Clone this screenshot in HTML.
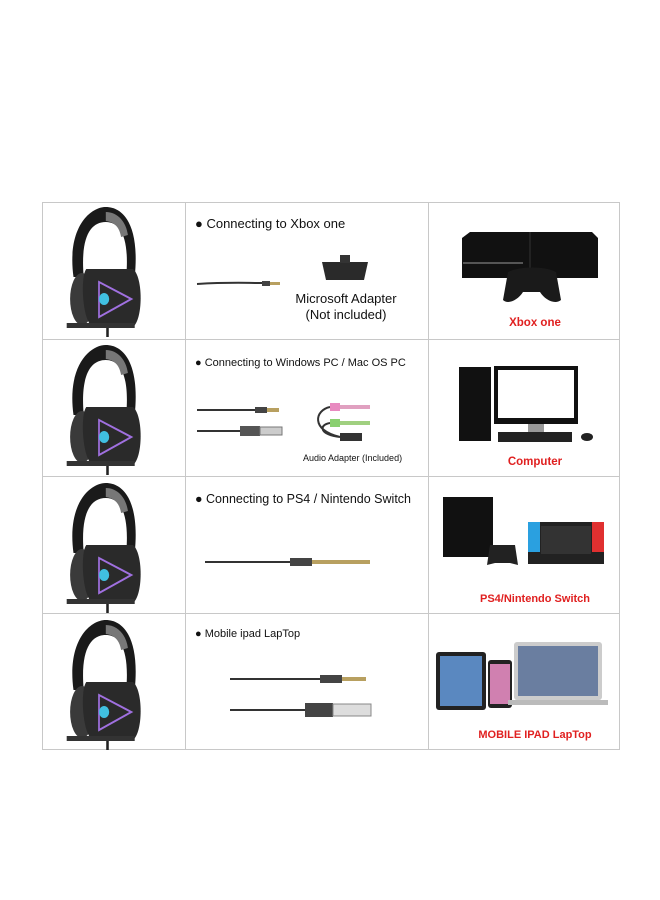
<!DOCTYPE html>
<html><head><meta charset="utf-8"><style>
body{margin:0;background:#fff;}
svg{display:block;font-family:"Liberation Sans",sans-serif;}
</style></head><body>
<svg width="660" height="900" viewBox="0 0 660 900">
<defs>
<g id="hs">
  <path d="M30,70 C22,20 50,0 68,0 C90,0 108,20 102,70 L92,70 C96,30 85,15 68,15 C50,15 38,30 42,70 Z" fill="#1a1a1a"/>
  <path d="M68,5 C82,5 92,15 94,28 L86,30 C84,20 78,15 68,14 Z" fill="#777"/>
  <ellipse cx="40" cy="92" rx="14" ry="26" fill="#3a3a3a"/>
  <path d="M45,62 L100,62 C112,70 112,112 100,120 L52,120 C40,112 38,70 45,62Z" fill="#2a2a2a"/>
  <path d="M60,75 L98,92 L60,110 Z" fill="none" stroke="#a070e0" stroke-width="2"/>
  <circle cx="66" cy="92" r="6" fill="#40c0e0"/>
  <rect x="22" y="116" width="80" height="5" fill="#333"/>
  <path d="M70,121 L70,130" stroke="#222" stroke-width="3"/>
</g>
</defs>
<g stroke="#c8c8c8" stroke-width="1" fill="none">
  <rect x="42.5" y="202.5" width="577" height="547"/>
  <line x1="185.5" y1="202" x2="185.5" y2="749"/>
  <line x1="428.5" y1="202" x2="428.5" y2="749"/>
  <line x1="42" y1="339.5" x2="619" y2="339.5"/>
  <line x1="42" y1="476.5" x2="619" y2="476.5"/>
  <line x1="42" y1="613.5" x2="619" y2="613.5"/>
</g>
<use href="#hs" transform="translate(48,207) scale(0.85,1)"/>
<use href="#hs" transform="translate(48,345) scale(0.85,1)"/>
<use href="#hs" transform="translate(48,483) scale(0.85,1)"/>
<use href="#hs" transform="translate(48,620) scale(0.85,1)"/>

<g fill="#111">
<text x="195" y="228" font-size="13">● Connecting to Xbox one</text>
<text x="195" y="366" font-size="11">● Connecting to Windows PC / Mac OS PC</text>
<text x="195" y="503" font-size="12.5">● Connecting to PS4 / Nintendo Switch</text>
<text x="195" y="637" font-size="11">●   Mobile ipad LapTop</text>
<text x="346" y="303" font-size="13" text-anchor="middle">Microsoft Adapter</text>
<text x="346" y="319" font-size="13" text-anchor="middle">(Not included)</text>
<text x="303" y="461" font-size="9">Audio Adapter (Included)</text>
</g>
<g stroke="#333" stroke-width="2" fill="none">
<path d="M197,284 C230,282 245,283 262,283"/>
<path d="M197,410 L255,410"/><path d="M197,431 L240,431"/>
<path d="M205,562 L290,562"/>
<path d="M230,679 L320,679"/><path d="M230,710 L305,710"/>
<path d="M330,407 C315,410 310,430 340,437 M330,423 C318,425 320,435 340,437"/>
</g>
<g fill="#444">
<rect x="262" y="281" width="8" height="5"/><rect x="270" y="282" width="10" height="3" fill="#b8a060"/>
<rect x="255" y="407" width="12" height="6"/><rect x="267" y="408" width="12" height="4" fill="#b8a060"/>
<rect x="240" y="426" width="20" height="10" fill="#555"/><rect x="260" y="427" width="22" height="8" fill="#ccc" stroke="#777"/>
<rect x="290" y="558" width="22" height="8"/><rect x="312" y="560" width="58" height="4" fill="#b8a060"/>
<rect x="320" y="675" width="22" height="8"/><rect x="342" y="677" width="24" height="4" fill="#b8a060"/>
<rect x="305" y="703" width="28" height="14" fill="#444"/><rect x="333" y="704" width="38" height="12" fill="#ddd" stroke="#888"/>
<path d="M322,262 L368,262 L364,280 L326,280Z" fill="#2a2a2a"/><rect x="340" y="255" width="10" height="8" fill="#333"/>
<rect x="330" y="403" width="10" height="8" fill="#e88ac0"/><rect x="340" y="405" width="30" height="4" fill="#e0a0c0"/>
<rect x="330" y="419" width="10" height="8" fill="#8ad070"/><rect x="340" y="421" width="30" height="4" fill="#a0d080"/>
<rect x="340" y="433" width="22" height="8" fill="#333"/>
</g>
<path d="M470,232 L592,232 L598,238 L598,278 L462,278 L462,238Z" fill="#111"/>
<line x1="530" y1="232" x2="530" y2="278" stroke="#333"/>
<rect x="463" y="262" width="60" height="2" fill="#555"/>
<path d="M508,272 C520,266 545,266 556,272 L561,300 C555,305 545,300 540,292 L523,292 C518,300 508,305 503,300Z" fill="#1a1a1a"/>
<text x="535" y="326" font-size="11.5" font-weight="bold" fill="#e02020" text-anchor="middle">Xbox one</text>
<rect x="459" y="367" width="32" height="74" fill="#111"/>
<rect x="494" y="366" width="84" height="58" fill="#111"/><rect x="498" y="370" width="76" height="48" fill="#fff"/>
<rect x="528" y="424" width="16" height="8" fill="#999"/>
<rect x="498" y="432" width="74" height="10" fill="#222"/>
<ellipse cx="587" cy="437" rx="6" ry="4" fill="#222"/>
<text x="535" y="465" font-size="11.5" font-weight="bold" fill="#e02020" text-anchor="middle">Computer</text>
<rect x="443" y="497" width="50" height="60" fill="#111"/>
<path d="M490,545 L515,545 L518,565 L510,563 L495,563 L487,565Z" fill="#222"/>
<rect x="528" y="522" width="76" height="42" fill="#222"/>
<rect x="528" y="522" width="12" height="30" fill="#2aa0e0"/><rect x="592" y="522" width="12" height="30" fill="#e03030"/>
<rect x="541" y="526" width="50" height="28" fill="#333"/>
<text x="535" y="602" font-size="11" font-weight="bold" fill="#e02020" text-anchor="middle">PS4/Nintendo Switch</text>
<rect x="436" y="652" width="50" height="58" rx="3" fill="#222"/><rect x="440" y="656" width="42" height="50" fill="#5a88c0"/>
<rect x="488" y="660" width="24" height="48" rx="3" fill="#222"/><rect x="490" y="664" width="20" height="40" fill="#d080b0"/>
<rect x="514" y="642" width="88" height="58" rx="3" fill="#ccc"/><rect x="518" y="646" width="80" height="50" fill="#6a7ea0"/>
<rect x="508" y="700" width="100" height="5" fill="#bbb"/>
<text x="535" y="738" font-size="11" font-weight="bold" fill="#e02020" text-anchor="middle">MOBILE IPAD LapTop</text>
</svg>
</body></html>
